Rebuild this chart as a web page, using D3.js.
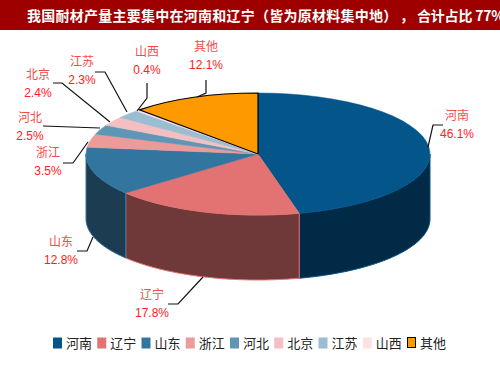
<!DOCTYPE html>
<html><head><meta charset="utf-8">
<script src="https://cdn.jsdelivr.net/npm/d3@7"></script>
<style>
body{margin:0;background:#fff;}
svg{display:block;font-family:"Noto Sans CJK SC","Liberation Sans",sans-serif;}
</style></head>
<body>
<svg id="c" width="500" height="375"></svg>
<script>
const categories = ["河南","辽宁","山东","浙江","河北","北京","江苏","山西","其他"];
const values = [46.1,17.8,12.8,3.5,2.5,2.4,2.3,0.4,12.1];
const pctLabels = ["46.1%","17.8%","12.8%","3.5%","2.5%","2.4%","2.3%","0.4%","12.1%"];
const titleParts = ["我国耐材产量主要集中在河南和辽宁（皆为原材料集中地）","，","合计占比 77%"];

const topColors  = ["#03558a","#e37272","#32759e","#ec9a9a","#5f96b6","#f3bfc0","#9abdd2","#fce1e3","#fe9a00"];
const sideColors = ["#002a45","#6f393a","#1c3c52","#7a4a4a","#2f4b5b","#7a5f60","#4d5e69","#7e7071","#7f4d00"];

// label layout (name centre; percent drawn 18px below) and leader polylines
const labelPos = [[457,116],[152,295],[61,242],[48,153],[30,118],[38,75],[82,62],[147,52],[206,47]];
const leaders = [
  [[443,125],[433,125],[428,147]],
  [[168,304],[178,304],[203,277]],
  [[77,251],[87,251],[93,237]],
  [[63,163],[73,163],[88,142]],
  [[43,126],[100,128]],
  [[53,83],[62,83],[110,122]],
  [[95,72],[105,72],[127,112]],
  [[147,83],[147,98],[137,111]],
  [[206,80],[206,93],[197,97]]
];
const titleX = [27,400,417];

const svg = d3.select("#c");
// title bar
svg.append("rect").attr("x",0).attr("y",0).attr("width",500).attr("height",30).attr("fill","#9e0000");
const tt = svg.append("text").attr("y",21).attr("fill","#fff").attr("font-size",14)
  .attr("font-weight","bold");
titleParts.forEach((t,i)=>{
  tt.append("tspan").attr("x",titleX[i]).attr("letter-spacing", i===0?0.25:(i===2?-0.2:0)).text(t);
});

const cx=258, cy=154, rx=172, ry=61, h=65;
const pie = d3.pie().sort(null).value(d=>d)(values);
const px = a => cx + rx*Math.sin(a);
const py = a => cy - ry*Math.cos(a);

// walls (front half only)
const line = d3.line();
pie.forEach((s,i)=>{
  const a0 = Math.max(s.startAngle, Math.PI/2), a1 = Math.min(s.endAngle, 3*Math.PI/2);
  if (a1 <= a0) return;
  const n = 60, pts=[];
  for (let k=0;k<=n;k++){ const a=a0+(a1-a0)*k/n; pts.push([px(a),py(a)]); }
  for (let k=n;k>=0;k--){ const a=a0+(a1-a0)*k/n; pts.push([px(a),py(a)+h]); }
  svg.append("path").attr("d", line(pts)+"Z").attr("fill",sideColors[i])
    .attr("stroke",topColors[i]).attr("stroke-width",1);
});

// top face
const arc = d3.arc().innerRadius(0).outerRadius(rx);
const topG = svg.append("g").attr("transform",`translate(${cx},${cy}) scale(1,${ry/rx})`);
topG.selectAll("path").data(pie).join("path")
  .attr("d",arc)
  .attr("fill",(d,i)=>topColors[i])
  .attr("stroke",(d,i)=> i===8 ? "#000" : topColors[i])
  .attr("stroke-width",(d,i)=> i===8 ? 1.2 : 0.5)
  .attr("vector-effect","non-scaling-stroke");

// leaders
leaders.forEach(l=>{
  svg.append("path").attr("d",line(l)).attr("fill","none").attr("stroke","#111").attr("stroke-width",1.2);
});
// labels
categories.forEach((c,i)=>{
  const [x,y]=labelPos[i];
  svg.append("text").attr("x",x).attr("y",y).attr("dy","0.35em").attr("text-anchor","middle")
    .attr("font-size",12).attr("fill","#f24d4d").text(c);
  svg.append("text").attr("x",x).attr("y",y+18).attr("dy","0.35em").attr("text-anchor","middle")
    .attr("font-size",12).attr("fill","#ff2020").attr("font-family","Liberation Sans, Arial, sans-serif").text(pctLabels[i]);
});

// legend
const lx = d3.scaleLinear().domain([0,8]).range([53,407]);
const lg = svg.append("g");
categories.forEach((c,i)=>{
  const x = lx(i);
  lg.append("rect").attr("x",x+ (i===8?0.5:0)).attr("y",337.5).attr("width",i===8?8:9).attr("height",i===8?10:11)
    .attr("fill",topColors[i]).attr("stroke",i===8?"#000":"none").attr("stroke-width",1);
  lg.append("text").attr("x",x+13).attr("y",343).attr("dy","0.38em").attr("font-size",13)
    .attr("fill","#222").text(c);
});
</script>
</body></html>
